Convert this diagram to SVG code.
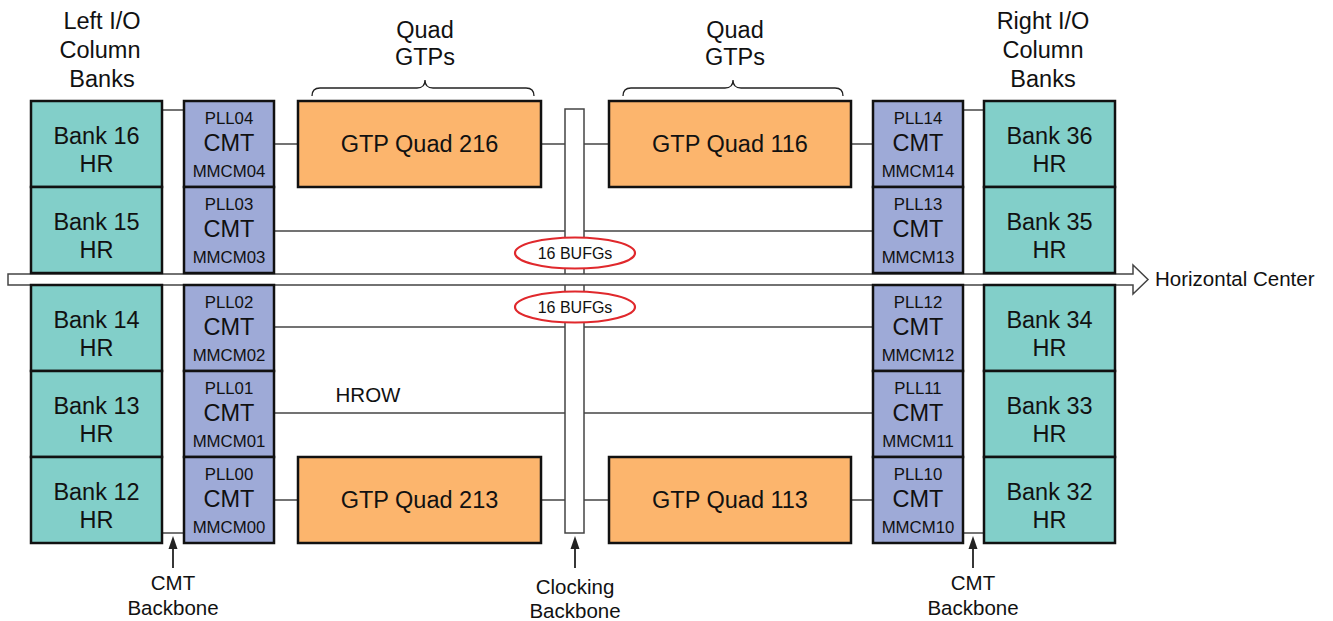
<svg xmlns="http://www.w3.org/2000/svg" width="1333" height="621" viewBox="0 0 1333 621">
<defs>
<style>
text{font-family:"Liberation Sans",Arial,Helvetica,sans-serif;fill:#111;text-anchor:middle}
.bank rect{fill:#82cfc9;stroke:#111;stroke-width:2.5}
.cmt rect{fill:#9eaad7;stroke:#111;stroke-width:2.5}
.gtp rect{fill:#fcb56d;stroke:#111;stroke-width:2.5}
.big{font-size:23.5px}
.sm{font-size:16.8px}
.lbl{font-size:23.5px}
.cap{font-size:20.5px}
.ln{stroke:#444;stroke-width:1.5;fill:none}
.bb{fill:#fff;stroke:#444;stroke-width:1.5}
.bufg ellipse{fill:#fff;stroke:#e0282c;stroke-width:2.2}
.bufg text{font-size:16px}
.brace{fill:none;stroke:#222;stroke-width:1.3}
.ptr line{stroke:#222;stroke-width:1.8}
.ptr path{fill:#222}
</style>
</defs>
<rect width="1333" height="621" fill="#fff"/>

<g id="connectors">
<line class="ln" x1="162" y1="110" x2="184" y2="110"/>
<line class="ln" x1="162" y1="533" x2="184" y2="533"/>
<line class="ln" x1="963" y1="110" x2="984" y2="110"/>
<line class="ln" x1="963" y1="533" x2="984" y2="533"/>
<line class="ln" x1="274" y1="144" x2="298" y2="144"/>
<line class="ln" x1="541" y1="144" x2="609" y2="144"/>
<line class="ln" x1="851" y1="144" x2="873" y2="144"/>
<line class="ln" x1="274" y1="231" x2="873" y2="231"/>
<line class="ln" x1="274" y1="327" x2="873" y2="327"/>
<line class="ln" x1="274" y1="413" x2="873" y2="413"/>
<line class="ln" x1="274" y1="500" x2="298" y2="500"/>
<line class="ln" x1="541" y1="500" x2="609" y2="500"/>
<line class="ln" x1="851" y1="500" x2="873" y2="500"/>
<g class="ptr"><line x1="173" y1="568" x2="173" y2="546"/><path d="M173,536 L177.5,549 L168.5,549 Z"/></g>
<g class="ptr"><line x1="575" y1="568" x2="575" y2="546"/><path d="M575,536 L579.5,549 L570.5,549 Z"/></g>
<g class="ptr"><line x1="973" y1="568" x2="973" y2="546"/><path d="M973,536 L977.5,549 L968.5,549 Z"/></g>
</g>

<g id="clocking-backbone">
<rect class="bb" x="565" y="109" width="19" height="424"/>
</g>

<g id="horizontal-center">
<path class="bb" d="M8,274 H1133 V265 L1148,279.5 L1133,294 V285 H8 Z"/>
<text x="1155" y="286" style="text-anchor:start;font-size:20.5px">Horizontal Center</text>
</g>

<g id="bufg-top" class="bufg"><ellipse cx="575" cy="253" rx="60" ry="15.5"/><text x="575" y="259">16 BUFGs</text></g>
<g id="bufg-bottom" class="bufg"><ellipse cx="575" cy="307" rx="60" ry="15.5"/><text x="575" y="313">16 BUFGs</text></g>

<text id="hrow" x="368" y="402" class="cap">HROW</text>

<g id="bank16" class="bank"><rect x="31" y="101" width="131" height="86"/><text class="big" x="96.5" y="144">Bank 16</text><text class="big" x="96.5" y="172">HR</text></g>
<g id="bank15" class="bank"><rect x="31" y="187" width="131" height="86"/><text class="big" x="96.5" y="230">Bank 15</text><text class="big" x="96.5" y="258">HR</text></g>
<g id="bank14" class="bank"><rect x="31" y="285" width="131" height="86"/><text class="big" x="96.5" y="328">Bank 14</text><text class="big" x="96.5" y="356">HR</text></g>
<g id="bank13" class="bank"><rect x="31" y="371" width="131" height="86"/><text class="big" x="96.5" y="414">Bank 13</text><text class="big" x="96.5" y="442">HR</text></g>
<g id="bank12" class="bank"><rect x="31" y="457" width="131" height="86"/><text class="big" x="96.5" y="500">Bank 12</text><text class="big" x="96.5" y="528">HR</text></g>

<g id="cmt04" class="cmt"><rect x="184" y="101" width="90" height="86"/><text class="sm" x="229" y="124">PLL04</text><text class="big" x="229" y="151">CMT</text><text class="sm" x="229" y="177">MMCM04</text></g>
<g id="cmt03" class="cmt"><rect x="184" y="187" width="90" height="86"/><text class="sm" x="229" y="210">PLL03</text><text class="big" x="229" y="237">CMT</text><text class="sm" x="229" y="263">MMCM03</text></g>
<g id="cmt02" class="cmt"><rect x="184" y="285" width="90" height="86"/><text class="sm" x="229" y="308">PLL02</text><text class="big" x="229" y="335">CMT</text><text class="sm" x="229" y="361">MMCM02</text></g>
<g id="cmt01" class="cmt"><rect x="184" y="371" width="90" height="86"/><text class="sm" x="229" y="394">PLL01</text><text class="big" x="229" y="421">CMT</text><text class="sm" x="229" y="447">MMCM01</text></g>
<g id="cmt00" class="cmt"><rect x="184" y="457" width="90" height="86"/><text class="sm" x="229" y="480">PLL00</text><text class="big" x="229" y="507">CMT</text><text class="sm" x="229" y="533">MMCM00</text></g>

<g id="gtp216" class="gtp"><rect x="298" y="101" width="243" height="86"/><text class="big" x="419.5" y="152">GTP Quad 216</text></g>
<g id="gtp116" class="gtp"><rect x="609" y="101" width="242" height="86"/><text class="big" x="730" y="152">GTP Quad 116</text></g>
<g id="gtp213" class="gtp"><rect x="298" y="457" width="243" height="86"/><text class="big" x="419.5" y="508">GTP Quad 213</text></g>
<g id="gtp113" class="gtp"><rect x="609" y="457" width="242" height="86"/><text class="big" x="730" y="508">GTP Quad 113</text></g>

<g id="cmt14" class="cmt"><rect x="873" y="101" width="90" height="86"/><text class="sm" x="918" y="124">PLL14</text><text class="big" x="918" y="151">CMT</text><text class="sm" x="918" y="177">MMCM14</text></g>
<g id="cmt13" class="cmt"><rect x="873" y="187" width="90" height="86"/><text class="sm" x="918" y="210">PLL13</text><text class="big" x="918" y="237">CMT</text><text class="sm" x="918" y="263">MMCM13</text></g>
<g id="cmt12" class="cmt"><rect x="873" y="285" width="90" height="86"/><text class="sm" x="918" y="308">PLL12</text><text class="big" x="918" y="335">CMT</text><text class="sm" x="918" y="361">MMCM12</text></g>
<g id="cmt11" class="cmt"><rect x="873" y="371" width="90" height="86"/><text class="sm" x="918" y="394">PLL11</text><text class="big" x="918" y="421">CMT</text><text class="sm" x="918" y="447">MMCM11</text></g>
<g id="cmt10" class="cmt"><rect x="873" y="457" width="90" height="86"/><text class="sm" x="918" y="480">PLL10</text><text class="big" x="918" y="507">CMT</text><text class="sm" x="918" y="533">MMCM10</text></g>

<g id="bank36" class="bank"><rect x="984" y="101" width="131" height="86"/><text class="big" x="1049.5" y="144">Bank 36</text><text class="big" x="1049.5" y="172">HR</text></g>
<g id="bank35" class="bank"><rect x="984" y="187" width="131" height="86"/><text class="big" x="1049.5" y="230">Bank 35</text><text class="big" x="1049.5" y="258">HR</text></g>
<g id="bank34" class="bank"><rect x="984" y="285" width="131" height="86"/><text class="big" x="1049.5" y="328">Bank 34</text><text class="big" x="1049.5" y="356">HR</text></g>
<g id="bank33" class="bank"><rect x="984" y="371" width="131" height="86"/><text class="big" x="1049.5" y="414">Bank 33</text><text class="big" x="1049.5" y="442">HR</text></g>
<g id="bank32" class="bank"><rect x="984" y="457" width="131" height="86"/><text class="big" x="1049.5" y="500">Bank 32</text><text class="big" x="1049.5" y="528">HR</text></g>

<g id="label-left-io"><text class="lbl" x="102" y="29">Left I/O</text><text class="lbl" x="100" y="58">Column</text><text class="lbl" x="102" y="87">Banks</text></g>
<g id="label-right-io"><text class="lbl" x="1043" y="29">Right I/O</text><text class="lbl" x="1043" y="58">Column</text><text class="lbl" x="1043" y="87">Banks</text></g>
<g id="label-quad-left"><text class="lbl" x="425" y="38">Quad</text><text class="lbl" x="425" y="65">GTPs</text>
<path class="brace" d="M312,96 Q312,88 320,88 H417 Q425,88 425,80 Q425,88 433,88 H526 Q534,88 534,96"/></g>
<g id="label-quad-right"><text class="lbl" x="735" y="38">Quad</text><text class="lbl" x="735" y="65">GTPs</text>
<path class="brace" d="M623,96 Q623,88 631,88 H725 Q733,88 733,80 Q733,88 741,88 H835 Q843,88 843,96"/></g>
<g id="label-cmt-left"><text class="cap" x="173" y="590">CMT</text><text class="cap" x="173" y="615">Backbone</text></g>
<g id="label-clocking"><text class="cap" x="575" y="594">Clocking</text><text class="cap" x="575" y="618">Backbone</text></g>
<g id="label-cmt-right"><text class="cap" x="973" y="590">CMT</text><text class="cap" x="973" y="615">Backbone</text></g>
</svg>
